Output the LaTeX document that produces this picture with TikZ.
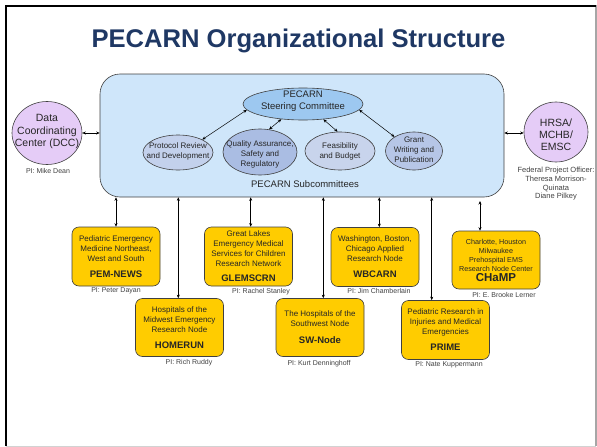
\documentclass[tikz,border=0pt]{standalone}
\usepackage{fontspec}
\setmainfont{Liberation Sans}
\usetikzlibrary{arrows.meta,shapes.geometric}
\definecolor{titlec}{HTML}{1F3864}
\definecolor{boxfill}{HTML}{CFE6FA}
\definecolor{steerfill}{HTML}{9DC8F0}
\definecolor{protofill}{HTML}{C3D1EC}
\definecolor{qafill}{HTML}{AABDE3}
\definecolor{feasfill}{HTML}{C8D4EC}
\definecolor{grantfill}{HTML}{B6C6E7}
\definecolor{lavfill}{HTML}{E5CCF7}
\definecolor{goldfill}{HTML}{FFCC00}
\definecolor{edgec}{HTML}{404040}
\newcommand\bnm{\fontsize{9.5}{11}\selectfont\bfseries}
\begin{document}
\begin{tikzpicture}[x=1pt,y=-1pt,
  dbl/.style={{Stealth[length=3.5pt,width=3pt]}-{Stealth[length=3.5pt,width=3pt]},line width=0.5pt,black},
  bigbox/.style={draw=edgec,line width=0.6pt,fill=boxfill,rounded corners=20pt,inner sep=0pt},
  ell/.style={ellipse,draw=edgec,line width=0.6pt,inner sep=0pt},
  etxt/.style={align=center,inner sep=0pt,font=\fontsize{8}{10}\selectfont,text=black!85},
  ybox/.style={draw=edgec,line width=0.6pt,fill=goldfill,rounded corners=7pt,inner sep=0pt,
    minimum width=88pt,minimum height=59pt,align=center,font=\fontsize{8}{10}\selectfont,text=black!85},
  pilab/.style={inner sep=0pt,font=\fontsize{7}{8}\selectfont,text=black!75}
]
\useasboundingbox (0,0) rectangle (597,447);
% frame
\draw[gray!70,line width=1.2pt] (596,5) -- (596,446);
\draw[gray!35,line width=1pt] (596,446) -- (6,446);
\draw[black,line width=2pt] (6,446) -- (6,5.5) -- (596,5.5);

\node[anchor=base,inner sep=0pt,text=titlec,font=\fontsize{25.6}{30}\selectfont\bfseries] (title) at (298.5,47.3) {PECARN Organizational Structure};

% big box
\node[bigbox,minimum width=404pt,minimum height=123pt] (box) at (302,135.5) {};
\node[etxt,font=\fontsize{9.5}{11}\selectfont] (subtitle) at (305,184) {PECARN Subcommittees};

% steering
\node[ell,fill=steerfill,minimum width=120pt,minimum height=32pt] (steer) at (303,104) {};
\node[etxt,font=\fontsize{9.5}{12}\selectfont] (steertxt) at (303,101.5) {PECARN\\Steering Committee};

% subcommittees
\node[ell,fill=protofill,minimum width=70pt,minimum height=35pt] (proto) at (178,152.5) {};
\node[etxt] (prototxt) at (178,151.5) {Protocol Review\\and Development};
\node[ell,fill=qafill,minimum width=74pt,minimum height=46pt] (qa) at (260,152) {};
\node[etxt] (qatxt) at (260,154) {Quality Assurance,\\Safety and\\Regulatory};
\node[ell,fill=feasfill,minimum width=70pt,minimum height=38pt] (feas) at (340,151) {};
\node[etxt] (feastxt) at (340,151) {Feasibility\\and Budget};
\node[ell,fill=grantfill,minimum width=57pt,minimum height=38pt] (grant) at (414,151) {};
\node[etxt] (granttxt) at (414,150) {Grant\\Writing and\\Publication};

\draw[dbl] (steer.186) -- (proto.28);
\draw[dbl] (steer.215) -- (qa.68);
\draw[dbl] (steer.323) -- (feas.97);
\draw[dbl] (steer.354) -- (grant.144);

% DCC and HRSA
\node[ell,fill=lavfill,minimum width=70pt,minimum height=63pt] (dcc) at (47,133) {};
\node[etxt,font=\fontsize{10.5}{12.3}\selectfont] (dcctxt) at (47,131.7) {Data\\Coordinating\\Center (DCC)};
\node[pilab] (dccpi) at (48,171) {PI: Mike Dean};
\draw[dbl] (dcc.east) -- (dcc.east -| box.west);

\node[ell,fill=lavfill,minimum width=64pt,minimum height=60pt] (hrsa) at (556,132) {};
\node[etxt,font=\fontsize{10.5}{12}\selectfont] (hrsatxt) at (556,135) {HRSA/\\MCHB/\\EMSC};
\node[etxt,font=\fontsize{7.5}{8.7}\selectfont,text=black!75] (fpo) at (556,184) {Federal Project Officer:\\Theresa Morrison-\\Quinata\\Diane Pilkey};
\draw[dbl] (box.east |- 0,133) -- (hrsa.west |- 0,133);

% nodes
\node[ybox] (pem) at (116,256.5) {Pediatric Emergency\\Medicine Northeast,\\West and South\\[6pt]{\bnm PEM-NEWS}};
\node[pilab] (pempi) at (116,291) {PI: Peter Dayan};

\node[ybox,minimum height=58pt] (homerun) at (179.5,327.5) {Hospitals of the\\Midwest Emergency\\Research Node\\[6pt]{\bnm HOMERUN}};
\node[pilab] (homerunpi) at (189,363) {PI: Rich Ruddy};

\node[ybox] (glem) at (248.5,256.5) {Great Lakes\\Emergency Medical\\Services for Children\\Research Network\\[5pt]{\bnm GLEMSCRN}};
\node[pilab] (glempi) at (261,292) {PI: Rachel Stanley};

\node[ybox,minimum height=58pt] (sw) at (320,327.5) {The Hospitals of the\\Southwest Node\\[7pt]{\bnm SW-Node}};
\node[pilab] (swpi) at (319,364) {PI: Kurt Denninghoff};

\node[ybox] (wb) at (375,257) {Washington, Boston,\\Chicago Applied\\Research Node\\[6pt]{\bnm WBCARN}};
\node[pilab] (wbpi) at (379,291) {PI: Jim Chamberlain};

\node[ybox] (prime) at (445.5,330) {Pediatric Research in\\Injuries and Medical\\Emergencies\\[6pt]{\bnm PRIME}};
\node[pilab] (primepi) at (449,365) {PI: Nate Kuppermann};

\node[ybox,minimum height=58pt,font=\fontsize{7.2}{9}\selectfont] (champ) at (496,260) {Charlotte, Houston\\Milwaukee\\Prehospital EMS\\Research Node Center\\[1pt]{\fontsize{11.5}{13}\selectfont\bfseries CHaMP}};
\node[pilab] (champpi) at (504,295) {PI: E. Brooke Lerner};

% vertical connectors
\draw[dbl] (box.south -| 116,0) -- (pem.north -| 116,0);
\draw[dbl] (box.south -| 178.3,0) -- (homerun.north -| 178.3,0);
\draw[dbl] (box.south -| 250.7,0) -- (glem.north -| 250.7,0);
\draw[dbl] (box.south -| 323.3,0) -- (sw.north -| 323.3,0);
\draw[dbl] (box.south -| 379.3,0) -- (wb.north -| 379.3,0);
\draw[dbl] (box.south -| 431.7,0) -- (prime.north -| 431.7,0);
\coordinate (champtop) at (480,201);
\draw[dbl] (champtop) -- (champ.north -| champtop);
\end{tikzpicture}
\end{document}
